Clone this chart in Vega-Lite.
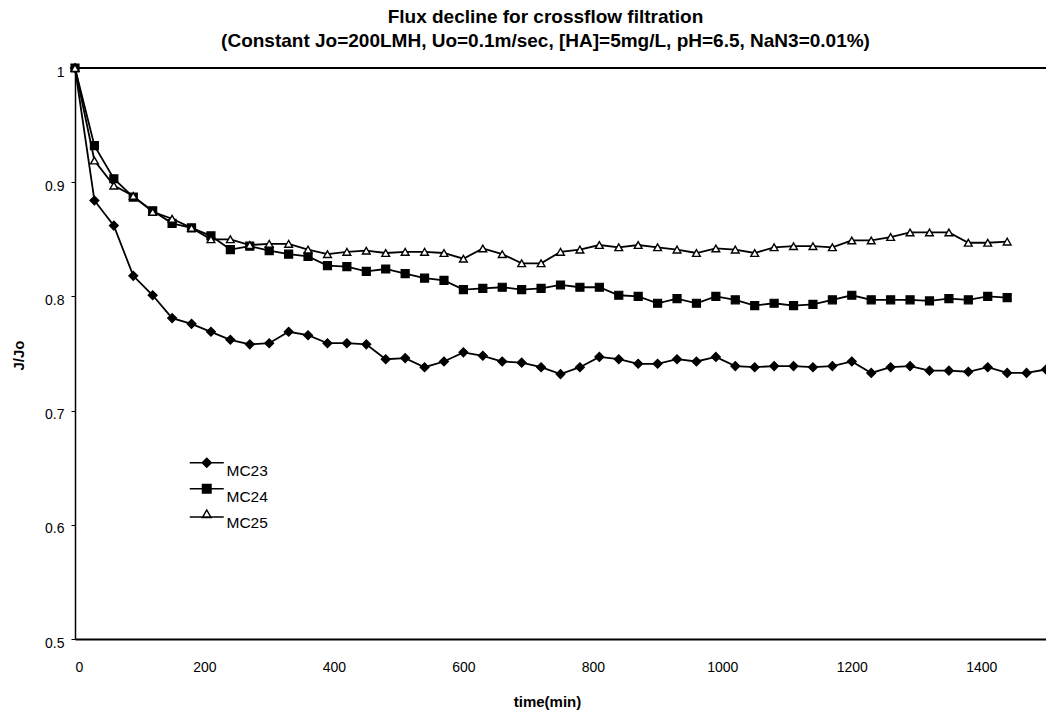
{
  "$schema": "https://vega.github.io/schema/vega-lite/v6.json",
  "autosize": {"type": "none"},
  "padding": {"left": 75, "top": 68, "right": 0, "bottom": 74},
  "width": 971,
  "height": 571,
  "background": "white",
  "title": {
    "text": ["Flux decline for crossflow filtration", "(Constant Jo=200LMH, Uo=0.1m/sec, [HA]=5mg/L, pH=6.5, NaN3=0.01%)"],
    "font": "Liberation Sans",
    "fontSize": 19,
    "fontWeight": "bold",
    "color": "black",
    "anchor": "middle",
    "frame": "group",
    "offset": 10,
    "lineHeight": 24,
    "dx": -15
  },
  "config": {"view": {"stroke": null}, "font": "Liberation Sans"},
  "data": {
    "values": [
      {"t": 0, "s": "MC23", "v": 1.0}, {"t": 30, "s": "MC23", "v": 0.884}, {"t": 60, "s": "MC23", "v": 0.862}, {"t": 90, "s": "MC23", "v": 0.818},
      {"t": 120, "s": "MC23", "v": 0.801}, {"t": 150, "s": "MC23", "v": 0.781}, {"t": 180, "s": "MC23", "v": 0.776}, {"t": 210, "s": "MC23", "v": 0.769},
      {"t": 240, "s": "MC23", "v": 0.762}, {"t": 270, "s": "MC23", "v": 0.758}, {"t": 300, "s": "MC23", "v": 0.759}, {"t": 330, "s": "MC23", "v": 0.769},
      {"t": 360, "s": "MC23", "v": 0.766}, {"t": 390, "s": "MC23", "v": 0.759}, {"t": 420, "s": "MC23", "v": 0.759}, {"t": 450, "s": "MC23", "v": 0.758},
      {"t": 480, "s": "MC23", "v": 0.745}, {"t": 510, "s": "MC23", "v": 0.746}, {"t": 540, "s": "MC23", "v": 0.738}, {"t": 570, "s": "MC23", "v": 0.743},
      {"t": 600, "s": "MC23", "v": 0.751}, {"t": 630, "s": "MC23", "v": 0.748}, {"t": 660, "s": "MC23", "v": 0.743}, {"t": 690, "s": "MC23", "v": 0.742},
      {"t": 720, "s": "MC23", "v": 0.738}, {"t": 750, "s": "MC23", "v": 0.732}, {"t": 780, "s": "MC23", "v": 0.738}, {"t": 810, "s": "MC23", "v": 0.747},
      {"t": 840, "s": "MC23", "v": 0.745}, {"t": 870, "s": "MC23", "v": 0.741}, {"t": 900, "s": "MC23", "v": 0.741}, {"t": 930, "s": "MC23", "v": 0.745},
      {"t": 960, "s": "MC23", "v": 0.743}, {"t": 990, "s": "MC23", "v": 0.747}, {"t": 1020, "s": "MC23", "v": 0.739}, {"t": 1050, "s": "MC23", "v": 0.738},
      {"t": 1080, "s": "MC23", "v": 0.739}, {"t": 1110, "s": "MC23", "v": 0.739}, {"t": 1140, "s": "MC23", "v": 0.738}, {"t": 1170, "s": "MC23", "v": 0.739},
      {"t": 1200, "s": "MC23", "v": 0.743}, {"t": 1230, "s": "MC23", "v": 0.733}, {"t": 1260, "s": "MC23", "v": 0.738}, {"t": 1290, "s": "MC23", "v": 0.739},
      {"t": 1320, "s": "MC23", "v": 0.735}, {"t": 1350, "s": "MC23", "v": 0.735}, {"t": 1380, "s": "MC23", "v": 0.734}, {"t": 1410, "s": "MC23", "v": 0.738},
      {"t": 1440, "s": "MC23", "v": 0.733}, {"t": 1470, "s": "MC23", "v": 0.733}, {"t": 1500, "s": "MC23", "v": 0.736},

      {"t": 0, "s": "MC24", "v": 1.0}, {"t": 30, "s": "MC24", "v": 0.932}, {"t": 60, "s": "MC24", "v": 0.903}, {"t": 90, "s": "MC24", "v": 0.887},
      {"t": 120, "s": "MC24", "v": 0.875}, {"t": 150, "s": "MC24", "v": 0.864}, {"t": 180, "s": "MC24", "v": 0.86}, {"t": 210, "s": "MC24", "v": 0.853},
      {"t": 240, "s": "MC24", "v": 0.841}, {"t": 270, "s": "MC24", "v": 0.844}, {"t": 300, "s": "MC24", "v": 0.84}, {"t": 330, "s": "MC24", "v": 0.837},
      {"t": 360, "s": "MC24", "v": 0.835}, {"t": 390, "s": "MC24", "v": 0.827}, {"t": 420, "s": "MC24", "v": 0.826}, {"t": 450, "s": "MC24", "v": 0.822},
      {"t": 480, "s": "MC24", "v": 0.824}, {"t": 510, "s": "MC24", "v": 0.82}, {"t": 540, "s": "MC24", "v": 0.816}, {"t": 570, "s": "MC24", "v": 0.814},
      {"t": 600, "s": "MC24", "v": 0.806}, {"t": 630, "s": "MC24", "v": 0.807}, {"t": 660, "s": "MC24", "v": 0.808}, {"t": 690, "s": "MC24", "v": 0.806},
      {"t": 720, "s": "MC24", "v": 0.807}, {"t": 750, "s": "MC24", "v": 0.81}, {"t": 780, "s": "MC24", "v": 0.808}, {"t": 810, "s": "MC24", "v": 0.808},
      {"t": 840, "s": "MC24", "v": 0.801}, {"t": 870, "s": "MC24", "v": 0.8}, {"t": 900, "s": "MC24", "v": 0.794}, {"t": 930, "s": "MC24", "v": 0.798},
      {"t": 960, "s": "MC24", "v": 0.794}, {"t": 990, "s": "MC24", "v": 0.8}, {"t": 1020, "s": "MC24", "v": 0.797}, {"t": 1050, "s": "MC24", "v": 0.792},
      {"t": 1080, "s": "MC24", "v": 0.794}, {"t": 1110, "s": "MC24", "v": 0.792}, {"t": 1140, "s": "MC24", "v": 0.793}, {"t": 1170, "s": "MC24", "v": 0.797},
      {"t": 1200, "s": "MC24", "v": 0.801}, {"t": 1230, "s": "MC24", "v": 0.797}, {"t": 1260, "s": "MC24", "v": 0.797}, {"t": 1290, "s": "MC24", "v": 0.797},
      {"t": 1320, "s": "MC24", "v": 0.796}, {"t": 1350, "s": "MC24", "v": 0.798}, {"t": 1380, "s": "MC24", "v": 0.797}, {"t": 1410, "s": "MC24", "v": 0.8},
      {"t": 1440, "s": "MC24", "v": 0.799},

      {"t": 0, "s": "MC25", "v": 1.0}, {"t": 30, "s": "MC25", "v": 0.919}, {"t": 60, "s": "MC25", "v": 0.897}, {"t": 90, "s": "MC25", "v": 0.888},
      {"t": 120, "s": "MC25", "v": 0.874}, {"t": 150, "s": "MC25", "v": 0.868}, {"t": 180, "s": "MC25", "v": 0.86}, {"t": 210, "s": "MC25", "v": 0.85},
      {"t": 240, "s": "MC25", "v": 0.85}, {"t": 270, "s": "MC25", "v": 0.845}, {"t": 300, "s": "MC25", "v": 0.846}, {"t": 330, "s": "MC25", "v": 0.846},
      {"t": 360, "s": "MC25", "v": 0.841}, {"t": 390, "s": "MC25", "v": 0.837}, {"t": 420, "s": "MC25", "v": 0.839}, {"t": 450, "s": "MC25", "v": 0.84},
      {"t": 480, "s": "MC25", "v": 0.838}, {"t": 510, "s": "MC25", "v": 0.839}, {"t": 540, "s": "MC25", "v": 0.839}, {"t": 570, "s": "MC25", "v": 0.838},
      {"t": 600, "s": "MC25", "v": 0.833}, {"t": 630, "s": "MC25", "v": 0.842}, {"t": 660, "s": "MC25", "v": 0.837}, {"t": 690, "s": "MC25", "v": 0.829},
      {"t": 720, "s": "MC25", "v": 0.829}, {"t": 750, "s": "MC25", "v": 0.839}, {"t": 780, "s": "MC25", "v": 0.841}, {"t": 810, "s": "MC25", "v": 0.845},
      {"t": 840, "s": "MC25", "v": 0.843}, {"t": 870, "s": "MC25", "v": 0.845}, {"t": 900, "s": "MC25", "v": 0.843}, {"t": 930, "s": "MC25", "v": 0.841},
      {"t": 960, "s": "MC25", "v": 0.838}, {"t": 990, "s": "MC25", "v": 0.842}, {"t": 1020, "s": "MC25", "v": 0.841}, {"t": 1050, "s": "MC25", "v": 0.838},
      {"t": 1080, "s": "MC25", "v": 0.843}, {"t": 1110, "s": "MC25", "v": 0.844}, {"t": 1140, "s": "MC25", "v": 0.844}, {"t": 1170, "s": "MC25", "v": 0.843},
      {"t": 1200, "s": "MC25", "v": 0.849}, {"t": 1230, "s": "MC25", "v": 0.849}, {"t": 1260, "s": "MC25", "v": 0.852}, {"t": 1290, "s": "MC25", "v": 0.856},
      {"t": 1320, "s": "MC25", "v": 0.856}, {"t": 1350, "s": "MC25", "v": 0.856}, {"t": 1380, "s": "MC25", "v": 0.847}, {"t": 1410, "s": "MC25", "v": 0.847},
      {"t": 1440, "s": "MC25", "v": 0.848}
    ]
  },
  "layer": [
    {
      "mark": {"type": "rule", "color": "black", "strokeWidth": 1.5},
      "encoding": {"y": {"datum": 1, "type": "quantitative"}}
    },
    {
      "mark": {"type": "line", "strokeWidth": 1.8},
      "encoding": {
        "x": {
          "field": "t", "type": "quantitative",
          "scale": {"domain": [0, 1500], "nice": false, "zero": false},
          "axis": {
            "values": [0, 200, 400, 600, 800, 1000, 1200, 1400],
            "format": "d",
            "ticks": false, "grid": false,
            "labelPadding": 21, "labelFontSize": 14, "labelColor": "black", "labelFont": "Liberation Sans",
            "domainColor": "black", "domainWidth": 2,
            "title": "time(min)", "titleFontSize": 15, "titleFontWeight": "bold", "titleColor": "black", "titleFont": "Liberation Sans",
            "titleX": 472, "titleY": 62, "titleBaseline": "middle", "titleAlign": "center"
          }
        },
        "y": {
          "field": "v", "type": "quantitative",
          "scale": {"domain": [0.5, 1], "nice": false, "zero": false},
          "axis": {
            "values": [0.5, 0.6, 0.7, 0.8, 0.9, 1],
            "format": "~g",
            "ticks": true, "tickSize": 4, "tickColor": "black", "grid": false,
            "labelPadding": 7, "labelFontSize": 14, "labelColor": "black", "labelOffset": 4, "labelFont": "Liberation Sans",
            "domainColor": "black", "domainWidth": 1.5,
            "title": "J/Jo", "titleFontSize": 15, "titleFontWeight": "bold", "titleColor": "black", "titleFont": "Liberation Sans",
            "titleX": -57, "titleY": 287, "titleAngle": -90, "titleAlign": "center", "titleBaseline": "middle"
          }
        },
        "color": {
          "field": "s", "type": "nominal",
          "scale": {"domain": ["MC23", "MC24", "MC25"], "range": ["black", "black", "black"]},
          "legend": {
            "orient": "none", "legendX": 124, "legendY": 387, "title": null, "padding": 0,
            "labelFont": "Liberation Sans", "labelFontSize": 15.5, "labelColor": "black",
            "symbolSize": 100, "labelOffset": 12, "rowPadding": 1,
            "encode": {
              "symbols": {
                "update": {
                  "shape": {"signal": "datum.value === 'MC23' ? 'M-3.4,0L3.4,0M0,-0.9L0.9,0L0,0.9L-0.9,0Z' : datum.value === 'MC24' ? 'M-3.4,0L3.4,0M-0.85,-0.85L0.85,-0.85L0.85,0.85L-0.85,0.85Z' : 'M-3.4,0.45L3.4,0.45M0,-0.95L0.85,0.55L-0.85,0.55Z'"},
                  "fill": {"signal": "datum.value === 'MC25' ? 'white' : 'black'"},
                  "stroke": {"value": "black"},
                  "strokeWidth": {"value": 1.5},
                  "opacity": {"value": 1},
                  "fillOpacity": {"value": 1}
                }
              },
              "labels": {
                "update": {
                  "dy": {"value": 8}
                }
              }
            }
          }
        }
      }
    },
    {
      "transform": [{"filter": {"field": "s", "equal": "MC23"}}],
      "mark": {"type": "point", "shape": "diamond", "size": 80, "filled": true, "fill": "black", "stroke": "black", "strokeWidth": 1.2, "opacity": 1},
      "encoding": {
        "x": {"field": "t", "type": "quantitative"},
        "y": {"field": "v", "type": "quantitative"}
      }
    },
    {
      "transform": [{"filter": {"field": "s", "equal": "MC24"}}],
      "mark": {"type": "point", "shape": "square", "size": 64, "filled": true, "fill": "black", "stroke": "black", "strokeWidth": 1.2, "opacity": 1},
      "encoding": {
        "x": {"field": "t", "type": "quantitative"},
        "y": {"field": "v", "type": "quantitative"}
      }
    },
    {
      "transform": [{"filter": {"field": "s", "equal": "MC25"}}],
      "mark": {"type": "point", "shape": "triangle-up", "size": 60, "filled": true, "fill": "white", "stroke": "black", "strokeWidth": 1.4, "opacity": 1},
      "encoding": {
        "x": {"field": "t", "type": "quantitative"},
        "y": {"field": "v", "type": "quantitative"}
      }
    }
  ]
}
